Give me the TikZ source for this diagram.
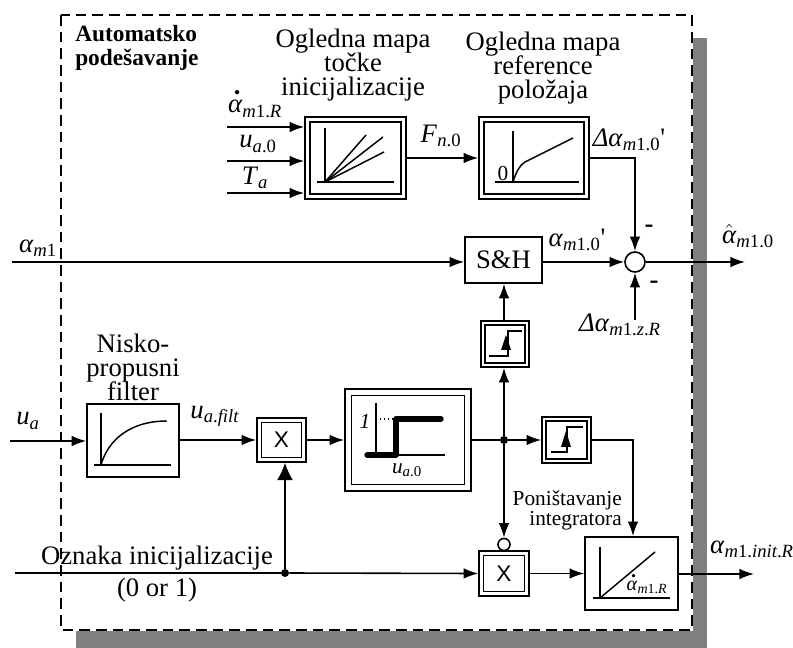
\documentclass[tikz,border=0pt]{standalone}
\usepackage{fontspec}
\setmainfont{Liberation Serif}
\setsansfont{Liberation Sans}
\usetikzlibrary{arrows.meta,calc}
\newcommand{\al}{\textit{α}}
\newcommand{\dal}{\rlap{\raisebox{1.5ex}{\hspace{0.22em}\textbf{.}}}\al}
\newcommand{\hal}{$\hat{\mbox{\al}}$}
\newcommand{\del}{\textit{Δ}}
\newcommand{\ii}[1]{\textit{#1}}
\newcommand{\velika}{\fontsize{20}{18}\selectfont\lineskiplimit-5pt\relax}
\newcommand{\dvoblok}[6]{% ime, x, y, sirina, visina, razmak
  \node[blok,minimum width=#4*0.75pt,minimum height=#5*0.75pt] (#1) at (#2,#3) {};
  \node[blok,minimum width=(#4-2*#6)*0.75pt,minimum height=(#5-2*#6)*0.75pt] (#1i) at (#2,#3) {};
}
\tikzset{
  blok/.style={draw,line width=1.2pt,inner sep=0pt,fill=white},
  tok/.style={line width=1.2pt,-{Latex[length=11pt,width=8pt]}},
  vod/.style={line width=1.2pt},
  osi/.style={line width=1.1pt},
  oznaka/.style={inner sep=0pt,font=\velika,align=center},
  mala/.style={inner sep=0pt,font=\fontsize{16}{18}\selectfont,align=center},
  cvor/.style={circle,fill=black,inner sep=0pt,minimum size=6pt},
}
\begin{document}
\begin{tikzpicture}[x=0.75pt,y=-0.75pt]
\useasboundingbox (0,0) rectangle (793,648);
% sjena i okvir
\fill[black!50] (76,38) rectangle (707,648);
\fill[white] (61,15) rectangle (693,631);
\draw[line width=1.1pt,dash pattern=on 8pt off 4.5pt,fill=white] (61,15) rectangle (692,630);
\node[inner sep=0pt,font=\fontsize{17.5}{18}\selectfont\bfseries,align=left,anchor=north west] (naslov) at (75,25) {Automatsko\\podešavanje};
% ogledna mapa 1
\dvoblok{mapa}{355.5}{158}{101}{82}{5}
\node[oznaka] (mapanaslov) at (353,65.5) {Ogledna mapa\\točke\\inicijalizacije};
\draw[osi] (325,128) -- (325,182);
\draw[osi] (317,182) -- (394,182);
\draw[osi] (325,182) -- (366,135);
\draw[osi] (325,182) -- (383,137);
\draw[osi] (325,182) -- (384,152);
\coordinate (u1) at (227,127);
\coordinate (u2) at (227,161);
\coordinate (u3) at (227,193);
\draw[tok] (u1) -- (u1 -| mapa.west);
\draw[tok] (u2) -- (u2 -| mapa.west);
\draw[tok] (u3) -- (u3 -| mapa.west);
\node[oznaka] (ldal) at (255,104) {\dal\textsubscript{\ii{m}1.\ii{R}}};
\node[oznaka] (lua) at (258,144) {\ii{u}\textsubscript{\ii{a}.0}};
\node[oznaka] (lta) at (255,178) {\ii{T}\textsubscript{\ii{a}}};
% ogledna mapa 2
\dvoblok{ref}{534}{158}{110}{82}{5}
\node[oznaka] (refnaslov) at (543,68) {Ogledna mapa\\reference\\položaja};
\draw[osi] (513,131) -- (513,182);
\draw[osi] (495,182) -- (579,182);
\draw[osi] (513,182) .. controls (516,172) and (520,165) .. (525,162) -- (573,138);
\node[mala] (lnula) at (503,174) {0};
\draw[tok] (mapa.east) -- (ref.west);
\node[oznaka] (lfn) at (441,136) {\ii{F}\textsubscript{\ii{n}.0}};
\node[oznaka] (ldm) at (629,140) {\del\al\textsubscript{\ii{m}1.0}\textquotesingle};
% S&H i suma
\node[blok,minimum width=57.75pt,minimum height=34.5pt,font=\fontsize{20}{22}\selectfont] (sh) at (503.5,260) {S\&H};
\node[blok,circle,minimum size=15pt] (suma) at (635,262) {};
\coordinate (a1) at (12,262);
\coordinate (izlaz) at (745,262);
\coordinate (dz) at (635,320);
\draw[tok] (a1) -- (a1 -| sh.west);
\draw[tok] (sh.east |- suma) -- (suma.west);
\draw[tok] (suma.east) -- (izlaz);
\draw[tok] (ref.east) -| (suma.north);
\draw[tok] (dz) -- (suma.south);
\node[oznaka] (la1) at (38,248) {\al\textsubscript{\ii{m}1}};
\node[oznaka] (lah) at (748,236) {\hal\textsubscript{\ii{m}1.0}};
\node[oznaka] (las) at (577,240) {\al\textsubscript{\ii{m}1.0}\textquotesingle};
\node[oznaka] (ldz) at (620,325) {\del\al\textsubscript{\ii{m}1.\ii{z}.\ii{R}}};
\node[oznaka] (lm1) at (649,229) {\textbf{-}};
\node[oznaka] (lm2) at (654,285) {\textbf{-}};
% nisko propusni filter
\node[blok,minimum width=69pt,minimum height=54.75pt] (lpf) at (133,440.5) {};
\node[oznaka] (lpfnaslov) at (133,367.5) {Nisko-\\propusni\\filter};
\draw[osi] (101,413) -- (101,465);
\draw[osi] (94,465) -- (171,465);
\draw[osi] (101,465) .. controls (108,440) and (130,421) .. (167,421);
\coordinate (ua) at (10,441);
\draw[tok] (ua) -- (ua -| lpf.west);
\node[oznaka] (lua2) at (28,421) {\ii{u}\textsubscript{\ii{a}}};
\node[oznaka] (luf) at (215,416) {\ii{u}\textsubscript{\ii{a}.\ii{filt}}};
% mnozilo 1
\dvoblok{mno}{281.5}{440}{49}{44}{4.5}
\node[font=\sffamily\fontsize{17}{17}\selectfont,inner sep=0pt] (lx1) at (mno) {X};
\draw[tok] (lpf.east |- mno) -- (mno.west);
% karakteristika
\dvoblok{kar}{408}{440}{126}{102}{6.5}
\draw[tok] (mno.east) -- (kar.west);
\draw[osi] (376,403) -- (376,455);
\draw[osi] (367,455) -- (445,455);
\draw[line width=1pt,dotted] (376,419) -- (396,419);
\draw[line width=4pt,line cap=round,line join=round] (367,455) -- (396,455) -- (396,419) -- (441,419);
\node[oznaka,font=\fontsize{16}{18}\selectfont\itshape] (ljed) at (365,421) {1};
\node[mala] (lu0) at (407,470) {\ii{u}\textsubscript{\ii{a}.0}};
% komparatori
\dvoblok{kom}{505}{344}{48}{46}{4}
\dvoblok{res}{566.5}{440}{49}{46}{4}
\draw[osi] (489,356) -- (508,356) -- (508,331) -- (522,331);
\fill (506,335) -- (511,350) -- (501,350) -- cycle;
\draw[osi] (551,452) -- (567,452) -- (567,427) -- (583,427);
\fill (566,431) -- (571,447) -- (561,447) -- cycle;
\node[cvor] (j1) at (504,440) {};
\draw[vod] (kar.east) -- (j1);
\draw[tok] (j1) -- (res.west);
\draw[tok] (j1) -- (j1 |- kom.south);
\draw[tok] (kom.north -| j1) -- (j1 |- sh.south);
% mnozilo 2
\dvoblok{mnd}{504}{573.5}{50}{45}{4.5}
\node[font=\sffamily\fontsize{17}{17}\selectfont,inner sep=0pt] (lx2) at (mnd) {X};
\node[blok,circle,minimum size=9pt] (neg) at (504,544.5) {};
\draw[tok] (j1) -- (neg.north);
% integrator
\node[blok,minimum width=69.75pt,minimum height=54.75pt] (int) at (631.5,573.5) {};
\draw[osi] (600,547) -- (600,598);
\draw[osi] (593,598) -- (670,598);
\draw[osi] (600,598) -- (655,552);
\node[inner sep=0pt,font=\fontsize{15}{16}\selectfont] (ldi) at (647,584) {\dal\textsubscript{\ii{m}1.\ii{R}}};
\draw[tok] (mnd.east) -- (int.west |- mnd);
\draw[tok] (res.east) -| ($(int.north)+(1.5,0)$);
\node[inner sep=0pt,font=\fontsize{16}{15}\selectfont,align=right,anchor=east] (lpon) at (622,510) {Poništavanje\\integratora};
\coordinate (izi) at (754,574);
\draw[tok] (int.east |- izi) -- (izi);
\node[oznaka] (lai) at (752,549) {\al\textsubscript{\ii{m}1.\ii{init}.\ii{R}}};
% oznaka inicijalizacije
\coordinate (oz) at (15,573);
\node[cvor] (j2) at (285,573) {};
\draw[vod] (oz) -- (j2);
\draw[tok] (j2) -- (mnd.west);
\draw[line width=1.2pt,-{Latex[length=13pt,width=12pt]}] (j2) -- (j2 |- mno.south);
\node[oznaka] (loz) at (157,558) {Oznaka inicijalizacije};
\node[oznaka] (lnj) at (157,590) {(0 or 1)};
\end{tikzpicture}
\end{document}
